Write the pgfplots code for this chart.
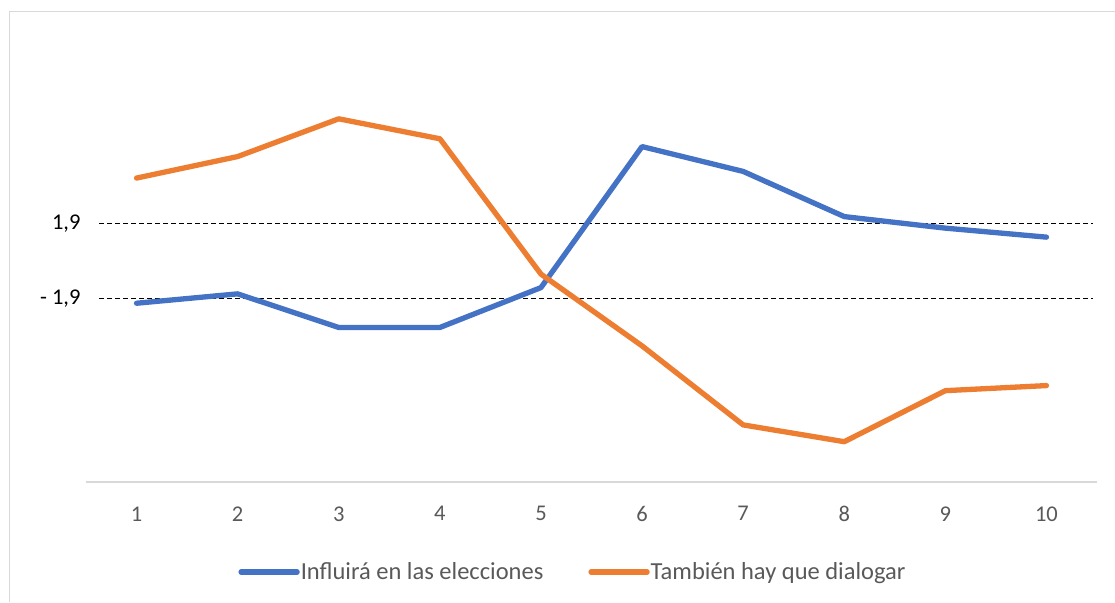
\documentclass[border=0pt]{standalone}
\usepackage{fontspec}
\setmainfont{Carlito}
\usepackage{pgfplots}
\pgfplotsset{compat=1.18}
\definecolor{cblue}{HTML}{4472C4}
\definecolor{corange}{HTML}{ED7D31}
\definecolor{ctext}{HTML}{595959}
\definecolor{cgrid}{HTML}{D9D9D9}
\begin{document}
\begin{tikzpicture}
\path[use as bounding box] (0,0) rectangle (1115pt,602pt);
\draw[cgrid, line width=1.6pt] (9.5pt,0pt) -- (9.5pt,590.5pt) -- (1115pt,590.5pt);
\begin{axis}[
 at={(86pt,120pt)}, anchor=south west,
 scale only axis, width=1011pt, height=442pt,
 xmin=0.5, xmax=10.5, ymin=-11.3, ymax=11.3,
 axis x line=bottom, axis y line=left,
 x axis line style={draw=cgrid, line width=1.5pt, -},
 y axis line style={draw=none},
 xtick={1,2,3,4,5,6,7,8,9,10}, ytick={-1.9,1.9},
 yticklabels={{- 1,9},{1,9}},
 major tick length=0,
 tick label style={font=\fontsize{22.5}{26}\selectfont},
 xticklabel style={text=ctext, yshift=-21pt},
 yticklabel style={text=black, xshift=-2pt},
 /pgf/number format/assume math mode=true,
 legend columns=2,
 legend style={at={(0.4812,-0.2036)}, anchor=center, draw=none, fill=none,
   font=\fontsize{24.5}{28}\selectfont, text=ctext,
   nodes={inner xsep=1pt},
   /tikz/every even column/.append style={column sep=44pt}},
 legend image code/.code={\draw[#1, line cap=round] (0pt,0pt) -- (56pt,0pt);},
 clip=false,
]
\addplot[black, line width=1.2pt, dash pattern=on 5pt off 3pt, forget plot] coordinates {(0.629,1.9) (10.46,1.9)};
\addplot[black, line width=1.2pt, dash pattern=on 5pt off 3pt, forget plot] coordinates {(0.629,-1.9) (10.46,-1.9)};
\addplot[cblue, line width=5.3pt, line cap=round, line join=round] coordinates {
(1,-2.16) (2,-1.68) (3,-3.40) (4,-3.40) (5,-1.36) (6,5.85) (7,4.58) (8,2.27) (9,1.68) (10,1.22)};
\addlegendentry{Influirá en las elecciones}
\addplot[corange, line width=5.3pt, line cap=round, line join=round] coordinates {
(1,4.24) (2,5.34) (3,7.27) (4,6.25) (5,-0.67) (6,-4.34) (7,-8.38) (8,-9.24) (9,-6.63) (10,-6.37)};
\addlegendentry{También hay que dialogar}
\end{axis}
\end{tikzpicture}
\end{document}
